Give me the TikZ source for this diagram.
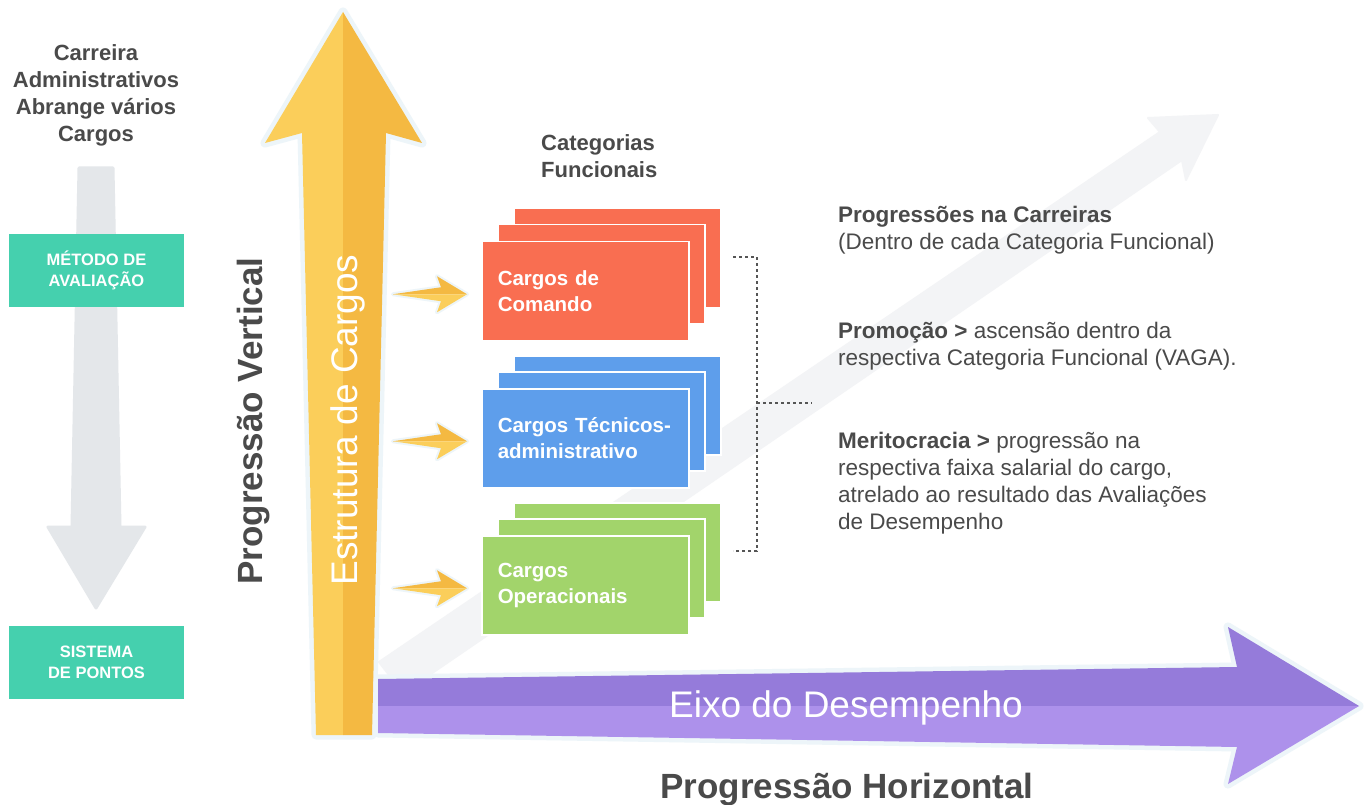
\documentclass[tikz,border=0pt]{standalone}
\usepackage{fontspec}
\setmainfont{Liberation Sans}

\definecolor{textgrey}{HTML}{4A4A4A}
\definecolor{tealgreen}{HTML}{45D0AE}
\definecolor{cardred}{HTML}{F96E51}
\definecolor{cardblue}{HTML}{5E9EEB}
\definecolor{cardgreen}{HTML}{A2D46B}
\definecolor{yellowlight}{HTML}{FBCE5A}
\definecolor{yellowdark}{HTML}{F4B942}
\definecolor{purpledark}{HTML}{957BDA}
\definecolor{purplelight}{HTML}{AD91EB}
\definecolor{greyarrow}{HTML}{E4E7EA}
\definecolor{greydiag}{HTML}{F3F4F6}
\definecolor{arrowrim}{HTML}{EDF5F9}
\definecolor{bracketgrey}{HTML}{555555}

\begin{document}
\begin{tikzpicture}[x=1pt,y=-1pt,
    card/.style={draw=white, line width=1.5pt, minimum width=207pt, minimum height=99pt, inner sep=0pt, anchor=north west},
    cardlabel/.style={card, text width=175pt, inner xsep=16pt, align=left, text=white, font=\fontsize{20.5}{26}\selectfont\bfseries},
    tealbox/.style={fill=tealgreen, minimum width=175pt, minimum height=73pt, align=center, text=white, font=\fontsize{16.5}{21}\selectfont\bfseries},
    heading/.style={text=textgrey, inner sep=0pt, font=\fontsize{22}{27}\selectfont\bfseries},
    note/.style={anchor=west, align=left, inner sep=0pt, text=textgrey, font=\fontsize{22.5}{27}\selectfont},
    bigbold/.style={text=textgrey, font=\fontsize{35}{40}\selectfont\bfseries},
    bigwhite/.style={text=white, font=\fontsize{37}{42}\selectfont},
    rim/.style={draw=arrowrim, line width=9pt, line join=round},
    bracket/.style={draw=bracketgrey, line width=1.2pt, dash pattern=on 3pt off 3pt}]

  \fill[white] (0,0) rectangle (1368,805);
  \useasboundingbox (0,0) rectangle (1368,805);

  \filldraw[greydiag, line width=2pt, line join=round] (379,662) -- (1160,132) -- (1148,118) -- (1218,115)
    -- (1186,180) -- (1182,160) -- (403,693) -- cycle;

  \filldraw[greyarrow, line width=3pt, line join=round] (79,168) -- (113,168) -- (120,527) -- (145,527)
    -- (96,608) -- (48,527) -- (72,527) -- cycle;

  \node[tealbox] (metodo)  at (96.5,270.5) {MÉTODO DE\\AVALIAÇÃO};
  \node[tealbox] (sistema) at (96.5,662.5) {SISTEMA\\DE PONTOS};
  \node[heading, align=center] (carreira) at (96,95) {Carreira\\Administrativos\\Abrange vários\\Cargos};

  \path[rim] (343,12) -- (422,143) -- (386,133) -- (372,735) -- (316,735) -- (302,133) -- (265,143) -- cycle;
  \fill[yellowlight] (343,12) -- (265,143) -- (302,133) -- (316,735) -- (343,735) -- cycle;
  \fill[yellowdark] (343,12) -- (422,143) -- (386,133) -- (372,735) -- (343,735) -- cycle;

  \path[rim] (378,679) -- (1237,667) -- (1228,627) -- (1359,706) -- (1228,784) -- (1237,747) -- (378,733) -- cycle;
  \fill[purpledark] (378,679) -- (1237,667) -- (1228,627) -- (1359,706) -- (378,706) -- cycle;
  \fill[purplelight] (378,706) -- (1359,706) -- (1228,784) -- (1237,747) -- (378,733) -- cycle;

  \node[bigwhite, rotate=90, anchor=base] (estrutura) at (357,420) {Estrutura de Cargos};
  \node[bigbold, rotate=90, anchor=base] (vertical) at (262,421) {Progressão Vertical};
  \node[bigwhite, anchor=base] (eixo) at (846,717) {Eixo do Desempenho};
  \node[bigbold, anchor=base] (horizontal) at (847,798) {Progressão Horizontal};

  \node[heading, anchor=west, align=left] (categorias) at (541,156) {Categorias\\Funcionais};

  \foreach \name/\col/\ytop/\txt in {comando/cardred/241/{Cargos de\\Comando},
      tecnicos/cardblue/388/{Cargos Técnicos-\\administrativo},
      operacionais/cardgreen/535/{Cargos\\Operacionais}} {
    \node[card, fill=\col] (\name3) at (513,\ytop-33) {};
    \node[card, fill=\col] (\name2) at (497,\ytop-17) {};
    \node[cardlabel, fill=\col] (\name) at (481,\ytop) {\txt};
    \coordinate (\name-tip) at ([xshift=-14pt,yshift=-3pt]\name.west);
    \path[draw=arrowrim, line width=4pt, line join=round] (\name-tip) -- ++(-30,-18) -- ++(4,11) -- ++(-48,7)
      -- ++(48,7) -- ++(-4,11) -- cycle;
    \fill[yellowdark] (\name-tip) -- ++(-30,-18) -- ++(4,11) -- ++(-48,7) -- cycle;
    \fill[yellowlight] (\name-tip) -- ++(-30,18) -- ++(4,-11) -- ++(-48,-7) -- cycle;
  }

  \coordinate (brtop) at (733,257);
  \coordinate (brbot) at (733,551);
  \coordinate (brspine) at (757,403);
  \coordinate (brmid) at (812,403);
  \draw[bracket] (brtop) -| (brspine) |- (brbot);
  \draw[bracket] (brspine) -- (brmid);

  \node[note] (progressoes) at (838,230) {\textbf{Progressões na Carreiras}\\(Dentro de cada Categoria Funcional)};
  \node[note] (promocao) at (838,346) {\textbf{Promoção >} ascensão dentro da\\respectiva Categoria Funcional (VAGA).};
  \node[note] (meritocracia) at (838,483) {\textbf{Meritocracia >} progressão na\\respectiva faixa salarial do cargo,\\atrelado ao resultado das Avaliações\\de Desempenho};

\end{tikzpicture}
\end{document}
